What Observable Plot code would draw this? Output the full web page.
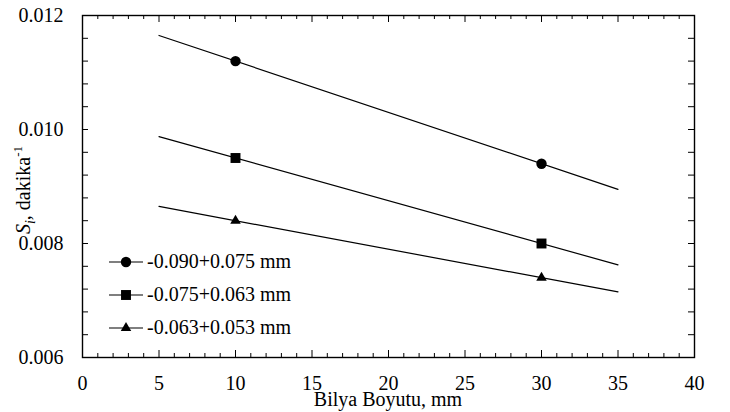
<!DOCTYPE html>
<html>
<head>
<meta charset="utf-8">
<script src="https://cdn.jsdelivr.net/npm/d3@7"></script>
<script src="https://cdn.jsdelivr.net/npm/@observablehq/plot@0.6"></script>
<style>
  html, body { margin: 0; padding: 0; background: white; }
  #chart svg, #chart svg text, #chart svg tspan { font-family: 'Liberation Serif', 'Times New Roman', serif !important; }
</style>
</head>
<body>
<div id="chart"></div>
<script>
// ---- data ----
const seriesNames = ["-0.090+0.075 mm", "-0.075+0.063 mm", "-0.063+0.053 mm"];
const seriesSymbols = ["circle", "square", "triangle"];
const ballSize = [10, 30];                 // Bilya Boyutu, mm
const s1Values = [0.0112, 0.0094];
const s2Values = [0.0095, 0.0080];
const s3Values = [0.0084, 0.0074];
// trend lines as drawn (from x = 5 to x = 35)
const fitX = [5, 35];
const s1Fit = [0.01165, 0.00895];
const s2Fit = [0.009875, 0.007625];
const s3Fit = [0.00865, 0.00715];
// tick labels
const xTickLabels = [0, 5, 10, 15, 20, 25, 30, 35, 40];
const yTickLabels = [0.006, 0.008, 0.010, 0.012];

const allValues = [s1Values, s2Values, s3Values];
const allFits = [s1Fit, s2Fit, s3Fit];

const points = [];
allValues.forEach((vals, i) => vals.forEach((v, j) => points.push({series: seriesNames[i], sym: seriesSymbols[i], x: ballSize[j], y: v})));
const fits = [];
allFits.forEach((vals, i) => vals.forEach((v, j) => fits.push({series: seriesNames[i], x: fitX[j], y: v})));

const W = 730, H = 412;
const mL = 82, mR = 36, mT = 15, mB = 55;
const FW = W - mL - mR, FH = H - mT - mB;

const xMinor = d3.range(0, 40.001, 1);
const xMinorOnly = xMinor.filter(d => d % 5 !== 0);
const yMinor = d3.range(0, 16).map(i => 0.006 + i * 0.0004);

const symSize = {circle: 5.2, square: 5.6, triangle: 3.9};
const font = "'Liberation Serif', 'Times New Roman', serif";

const chart = Plot.plot({
  width: W, height: H,
  marginLeft: mL, marginRight: mR, marginTop: mT, marginBottom: mB,
  style: {fontFamily: font, fontSize: "20px", background: "white", color: "black"},
  x: {domain: [0, 40], ticks: xTickLabels, tickSize: 0, tickPadding: 18.5, label: null},
  y: {domain: [0.006, 0.012], ticks: yTickLabels, tickSize: 0, tickPadding: 19, tickFormat: d3.format(".3f"), label: null},
  symbol: {domain: seriesSymbols, range: seriesSymbols},
  marks: [
    // inward ticks: bottom & top
    Plot.tickX(xMinorOnly, {x: d => d, insetTop: FH - 4, stroke: "black", strokeWidth: 1}),
    Plot.tickX(xTickLabels, {x: d => d, insetTop: FH - 7, stroke: "black", strokeWidth: 1}),
    Plot.tickX(xMinorOnly, {x: d => d, insetBottom: FH - 4, stroke: "black", strokeWidth: 1}),
    Plot.tickX(xTickLabels, {x: d => d, insetBottom: FH - 7, stroke: "black", strokeWidth: 1}),
    // inward ticks: left & right
    Plot.tickY(yMinor, {y: d => d, insetRight: FW - 6, stroke: "black", strokeWidth: 1}),
    Plot.tickY(yMinor, {y: d => d, insetLeft: FW - 6, stroke: "black", strokeWidth: 1}),
    Plot.frame({stroke: "black", strokeWidth: 1.4}),
    Plot.line(fits, {x: "x", y: "y", z: "series", stroke: "black", strokeWidth: 1.2}),
    Plot.dot(points.filter(d => d.sym === "circle"), {x: "x", y: "y", symbol: "sym", fill: "black", r: symSize.circle}),
    Plot.dot(points.filter(d => d.sym === "square"), {x: "x", y: "y", symbol: "sym", fill: "black", r: symSize.square}),
    Plot.dot(points.filter(d => d.sym === "triangle"), {x: "x", y: "y", symbol: "sym", fill: "black", r: symSize.triangle})
  ]
});

document.getElementById("chart").appendChild(chart);

const svg = d3.select(chart);

// x axis title
svg.append("text")
  .attr("x", mL + FW / 2).attr("y", 406)
  .attr("text-anchor", "middle")
  .attr("font-family", font).attr("font-size", 20).attr("fill", "black")
  .text("Bilya Boyutu, mm");

// y axis title
const yl = svg.append("text")
  .attr("transform", `translate(30,${mT + FH / 2 + 4}) rotate(-90)`)
  .attr("text-anchor", "middle")
  .attr("font-family", font).attr("font-size", 20).attr("fill", "black");
yl.append("tspan").attr("font-style", "italic").text("S");
yl.append("tspan").attr("font-style", "italic").attr("font-size", 14).attr("dy", 5).text("i");
yl.append("tspan").attr("dy", -5).text(", dakika");
yl.append("tspan").attr("font-size", 13).attr("dy", -8).text("-1");

// legend
const rows = [262, 295, 328];
seriesNames.forEach((name, i) => {
  const g = svg.append("g").attr("transform", `translate(0,${rows[i]})`);
  g.append("line").attr("x1", 109).attr("x2", 143).attr("y1", 0).attr("y2", 0)
    .attr("stroke", "black").attr("stroke-width", 1.2);
  const symType = {circle: d3.symbolCircle, square: d3.symbolSquare, triangle: d3.symbolTriangle}[seriesSymbols[i]];
  const r = symSize[seriesSymbols[i]];
  g.append("path").attr("transform", "translate(126,0)")
    .attr("d", d3.symbol(symType, Math.PI * r * r)()).attr("fill", "black");
  g.append("text").attr("x", 147).attr("y", 0).attr("dy", "0.32em")
    .attr("text-anchor", "start")
    .attr("font-family", font).attr("font-size", 20).attr("fill", "black")
    .text(name);
});
</script>
</body>
</html>
